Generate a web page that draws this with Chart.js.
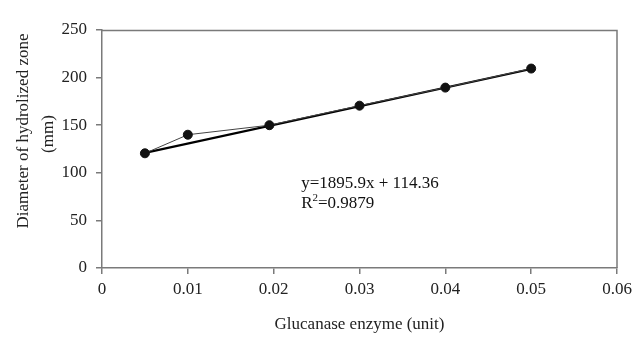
<!DOCTYPE html>
<html>
<head>
<meta charset="utf-8">
<script src="https://cdn.jsdelivr.net/npm/chart.js@4"></script>
<style>
  html, body { margin: 0; padding: 0; background: #fff; }
  #wrap { width: 643px; height: 340px; }
</style>
</head>
<body>
<div id="wrap"><canvas id="chart" width="643" height="340"></canvas></div>
<script>
// measured points
var enzyme = [0.005, 0.01, 0.0195, 0.03, 0.04, 0.05];
var diameter = [120.5, 140, 150, 170.5, 189.5, 209.5];

// linear trendline ends as drawn
var trendX = [0.005, 0.05];
var trendY = [121, 209];

var equationLines = ['y=1895.9x + 114.36', 'R2=0.9879'];
var yTitle = ['Diameter of hydrolized zone', '(mm)'];
var xTicks = [0, 0.01, 0.02, 0.03, 0.04, 0.05, 0.06];
var yTicks = [0, 50, 100, 150, 200, 250];

var serif = "'Liberation Serif', 'DejaVu Serif', serif";
Chart.defaults.font.family = serif;
Chart.defaults.color = '#222';

// frame around the plot area, y title and regression label
var framePlugin = {
  id: 'frame',
  afterDraw: function (chart) {
    var ctx = chart.ctx;
    var a = chart.chartArea;
    ctx.save();
    ctx.strokeStyle = '#7a7a7a';
    ctx.lineWidth = 1.5;
    ctx.beginPath();
    ctx.moveTo(a.left, a.top + 0.5);
    ctx.lineTo(a.right, a.top + 0.5);
    ctx.lineTo(a.right, a.bottom);
    ctx.stroke();

    // rotated y title
    ctx.fillStyle = '#222';
    ctx.font = '17px ' + serif;
    ctx.textAlign = 'center';
    ctx.textBaseline = 'middle';
    ctx.save();
    ctx.translate(24, 131);
    ctx.rotate(-Math.PI / 2);
    ctx.fillText(yTitle[0], 0, 0);
    ctx.restore();
    ctx.save();
    ctx.translate(49, 134);
    ctx.rotate(-Math.PI / 2);
    ctx.fillText(yTitle[1], 0, 0);
    ctx.restore();

    var xs = chart.scales.x, ys = chart.scales.y;
    var tx = xs.getPixelForValue(0.0232);
    var ty = ys.getPixelForValue(89);
    ctx.fillStyle = '#111';
    ctx.font = '17px ' + serif;
    ctx.textAlign = 'left';
    ctx.fillText(equationLines[0], tx, ty);
    var ty2 = ys.getPixelForValue(68);
    ctx.fillText('R', tx, ty2);
    var w = ctx.measureText('R').width;
    ctx.font = '11px ' + serif;
    ctx.fillText('2', tx + w, ty2 - 5);
    var w2 = ctx.measureText('2').width;
    ctx.font = '17px ' + serif;
    ctx.fillText(equationLines[1].slice(2), tx + w + w2, ty2);
    ctx.restore();
  }
};

var pts = enzyme.map(function (x, i) { return { x: x, y: diameter[i] }; });
var trend = trendX.map(function (x, i) { return { x: x, y: trendY[i] }; });

new Chart(document.getElementById('chart'), {
  type: 'scatter',
  data: {
    datasets: [
      {
        label: 'Trendline',
        data: trend,
        showLine: true,
        borderColor: '#000',
        borderWidth: 2.2,
        pointRadius: 0,
        order: 2
      },
      {
        label: 'Diameter',
        data: pts,
        showLine: true,
        borderColor: '#444',
        borderWidth: 1,
        backgroundColor: '#000',
        pointBackgroundColor: '#111',
        pointBorderColor: '#111',
        pointRadius: 4.5,
        order: 1
      }
    ]
  },
  options: {
    responsive: false,
    animation: false,
    layout: { padding: { top: 30, right: 26, left: 0, bottom: 0 } },
    plugins: {
      legend: { display: false },
      tooltip: { enabled: false }
    },
    scales: {
      x: {
        type: 'linear',
        min: 0,
        max: 0.06,
        afterBuildTicks: function (scale) {
          scale.ticks = xTicks.map(function (v) { return { value: v }; });
        },
        afterFit: function (scale) { scale.height = 72; },
        grid: { drawOnChartArea: false, color: '#7a7a7a', tickLength: 6, lineWidth: 1.5 },
        border: { color: '#7a7a7a', width: 1.5 },
        ticks: {
          font: { size: 17 },
          color: '#222',
          padding: 5,
          maxRotation: 0,
          callback: function (v) { return v === 0 ? '0' : String(Math.round(v * 100) / 100); }
        },
        title: {
          display: true,
          text: 'Glucanase enzyme (unit)',
          font: { size: 17 },
          color: '#222',
          padding: { top: 5, bottom: 5 }
        }
      },
      y: {
        min: 0,
        max: 250,
        afterBuildTicks: function (scale) {
          scale.ticks = yTicks.map(function (v) { return { value: v }; });
        },
        afterFit: function (scale) { scale.width = 102; },
        grid: { drawOnChartArea: false, color: '#7a7a7a', tickLength: 6, lineWidth: 1.5 },
        border: { color: '#7a7a7a', width: 1.5 },
        ticks: { font: { size: 17 }, color: '#222', padding: 9 }
      }
    }
  },
  plugins: [framePlugin]
});
</script>
</body>
</html>
